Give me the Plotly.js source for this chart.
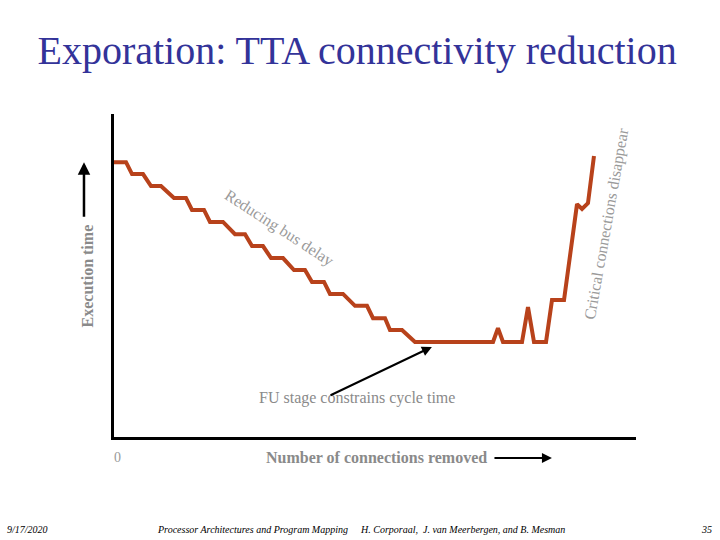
<!DOCTYPE html>
<html>
<head>
<meta charset="utf-8">
<script src="https://cdn.plot.ly/plotly-3.0.1.min.js"></script>
<style>
  html, body { margin: 0; padding: 0; background: #ffffff; }
  #chart { width: 720px; height: 540px; }
</style>
</head>
<body>
<div id="chart"></div>
<script>
// Connections removed (relative units) and execution time (relative units)
const connectionsRemoved = [
  0, 2.3, 3.45, 5.56, 7.09, 9.0, 11.49, 13.79, 14.94, 17.24, 18.39, 20.88,
  23.18, 25.1, 26.44, 28.54, 30.08, 32.38, 34.48, 36.59, 37.93, 40.23, 41.38,
  43.87, 46.17, 48.47, 49.62, 51.92, 52.87, 55.17, 57.66, 72.61, 73.56, 74.52,
  78.16, 79.31, 80.46, 82.76, 83.91, 86.21, 88.7, 89.66, 90.8, 91.95
];
const executionTime = [
  85.1, 85.1, 81.4, 81.4, 77.7, 77.7, 74.0, 74.0, 70.3, 70.3, 66.6, 66.6,
  62.8, 62.8, 59.1, 59.1, 55.4, 55.4, 51.7, 51.7, 48.0, 48.0, 44.3,
  44.3, 40.6, 40.6, 36.8, 36.8, 33.1, 33.1, 29.4, 29.4, 33.7, 29.4,
  29.4, 40.2, 29.4, 29.4, 42.4, 42.4, 72.1, 70.6, 72.4, 87.0
];

// Where the "FU stage" arrow points (start of the flat stretch) and its tail
const fuArrowHead = [60.9, 27.9];
const fuArrowTail = [41.2, 12.7];

const grey = '#8a8a8a';
const lightGrey = '#9a9a9a';
const serif = '"Liberation Serif", "Times New Roman", serif';

const trace = {
  x: connectionsRemoved,
  y: executionTime,
  type: 'scatter',
  mode: 'lines',
  line: { color: '#b8421b', width: 4, shape: 'linear' },
  hoverinfo: 'skip'
};

// text placed in paper coordinates, centred on the given point
function label(text, x, y, size, color, extra) {
  return Object.assign({
    text: text, xref: 'paper', yref: 'paper', x: x, y: y,
    xanchor: 'center', yanchor: 'middle', showarrow: false,
    font: { family: serif, size: size, color: color }
  }, extra || {});
}

const layout = {
  width: 720,
  height: 540,
  margin: { l: 114, r: 84, t: 114, b: 103 },
  paper_bgcolor: '#ffffff',
  plot_bgcolor: '#ffffff',
  showlegend: false,
  title: {
    text: 'Exporation: TTA connectivity reduction',
    font: { family: serif, size: 40, color: '#333399' },
    xref: 'container', x: 0.496, xanchor: 'center',
    yref: 'container', y: 0.907, yanchor: 'middle'
  },
  xaxis: {
    range: [0, 100], showgrid: false, zeroline: false,
    showticklabels: false, ticks: '',
    showline: true, linecolor: '#000000', linewidth: 3, mirror: false
  },
  yaxis: {
    range: [0, 100], showgrid: false, zeroline: false,
    showticklabels: false, ticks: '',
    showline: true, linecolor: '#000000', linewidth: 3, mirror: false
  },
  annotations: [
    // axis captions
    label('<b>Execution time</b>', -0.05, 0.50, 16, grey, { textangle: -90 }),
    {
      text: '', xref: 'paper', yref: 'paper', x: -0.0575, y: 0.851,
      showarrow: true, ax: 0, ay: 56, arrowhead: 2, arrowsize: 1,
      arrowwidth: 2.5, arrowcolor: '#000000', standoff: 0
    },
    label('0', 0.006, -0.062, 14, lightGrey),
    label('<b>Number of connections removed</b>', 0.502, -0.065, 16, grey),
    {
      text: '', xref: 'paper', yref: 'paper', x: 0.839, y: -0.065,
      showarrow: true, ax: -59, ay: 0, arrowhead: 2, arrowsize: 1,
      arrowwidth: 2, arrowcolor: '#000000', standoff: 0
    },
    // in-plot notes
    label('Reducing bus delay', 0.316, 0.647, 16, lightGrey, { textangle: 33 }),
    label('Critical connections disappear', 0.944, 0.659, 16, lightGrey, { textangle: -80 }),
    label('FU stage constrains cycle time', 0.466, 0.121, 16, grey),
    {
      text: '', x: fuArrowHead[0], y: fuArrowHead[1], xref: 'x', yref: 'y',
      axref: 'x', ayref: 'y', ax: fuArrowTail[0], ay: fuArrowTail[1],
      showarrow: true, arrowhead: 2, arrowsize: 1, arrowwidth: 2,
      arrowcolor: '#000000', standoff: 0
    },
    // footer
    label('<i>9/17/2020</i>', -0.2088, -0.285, 10, '#000000', { xanchor: 'left' }),
    label('<i>Processor Architectures and Program Mapping</i>', 0.0785, -0.285, 10, '#000000', { xanchor: 'left' }),
    label('<i>H. Corporaal,  J. van Meerbergen, and B. Mesman</i>', 0.467, -0.285, 10, '#000000', { xanchor: 'left' }),
    label('<i>35</i>', 1.15, -0.285, 10, '#000000', { xanchor: 'right' })
  ]
};

Plotly.newPlot('chart', [trace], layout, { staticPlot: true, displayModeBar: false });
</script>
</body>
</html>
